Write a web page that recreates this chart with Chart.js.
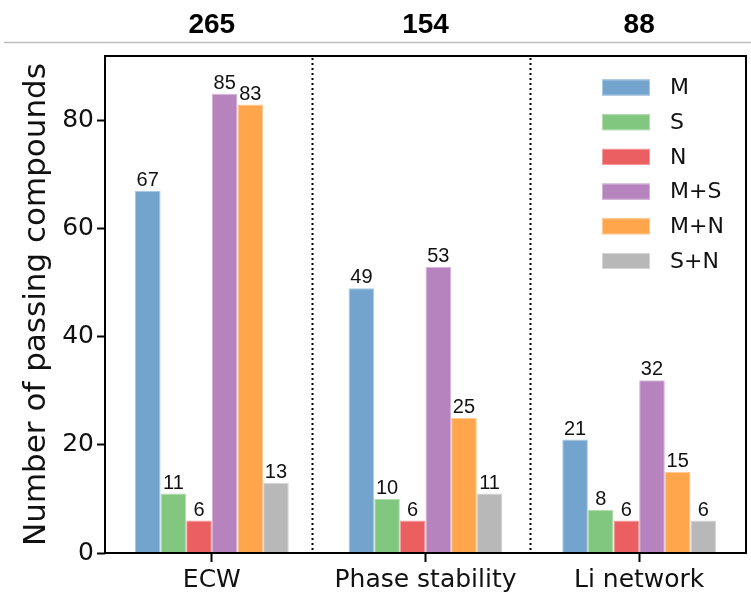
<!DOCTYPE html>
<html>
<head>
<meta charset="utf-8">
<script src="https://cdn.jsdelivr.net/npm/chart.js@4/dist/chart.umd.min.js"></script>
<style>
  html, body { margin: 0; padding: 0; background: #fff; }
  canvas { display: block; }
</style>
</head>
<body>
<canvas id="chart" width="751" height="596" style="width:751px;height:596px"></canvas>
<script>
// Screening stages and the number of compounds passing each one
const categories = ['ECW', 'Phase stability', 'Li network'];
const seriesNames = ['M', 'S', 'N', 'M+S', 'M+N', 'S+N'];
const valuesM  = [67, 49, 21];
const valuesS  = [11, 10, 8];
const valuesN  = [6, 6, 6];
const valuesMS = [85, 53, 32];
const valuesMN = [83, 25, 15];
const valuesSN = [13, 11, 6];
const yTickValues = [0, 20, 40, 60, 80];
const separatorPositions = [0.47, 1.49];

const seriesValues = [valuesM, valuesS, valuesN, valuesMS, valuesMN, valuesSN];
const seriesColors = ['#72a4cd', '#82c780', '#ec5f60', '#b783bf', '#ffa54c', '#b8b8b8'];
const seriesEdges  = ['#a9c8e1', '#b1dcae', '#f49c9d', '#d3b3d8', '#ffc891', '#d4d4d4'];

// Totals shown above each group
const totals = categories.map((_, i) => seriesValues.reduce((s, arr) => s + arr[i], 0));

const decor = {
  id: 'decor',
  afterDatasetsDraw(chart) {
    const ctx = chart.ctx;
    const area = chart.chartArea;
    const xs = chart.scales.x;

    // value labels above bars
    ctx.save();
    ctx.font = '20px "Liberation Sans", Arial, sans-serif';
    ctx.fillStyle = '#111';
    ctx.textAlign = 'center';
    ctx.textBaseline = 'alphabetic';
    chart.data.datasets.forEach((ds, di) => {
      const meta = chart.getDatasetMeta(di);
      meta.data.forEach((bar, i) => {
        ctx.fillText(String(ds.data[i]), bar.x, bar.y - 5);
      });
    });
    ctx.restore();

    // dotted separators between groups
    ctx.save();
    ctx.strokeStyle = '#000';
    ctx.lineWidth = 2;
    ctx.setLineDash([2, 3]);
    separatorPositions.forEach(p => {
      const x = Math.round(xs.getPixelForValue(p)) + 0.5;
      ctx.beginPath();
      ctx.moveTo(x, area.top + 2);
      ctx.lineTo(x, area.bottom);
      ctx.stroke();
    });
    ctx.restore();

    // frame around the plot
    ctx.save();
    ctx.strokeStyle = '#000';
    ctx.lineWidth = 2;
    ctx.strokeRect(area.left, area.top, area.right - area.left, area.bottom - area.top);
    ctx.restore();
  },
  afterDraw(chart) {
    const ctx = chart.ctx;
    const xs = chart.scales.x;

    // group totals and the rule under them
    ctx.save();
    ctx.font = 'bold 28px "Liberation Sans", Arial, sans-serif';
    ctx.fillStyle = '#000';
    ctx.textAlign = 'center';
    ctx.textBaseline = 'alphabetic';
    totals.forEach((t, i) => {
      ctx.fillText(String(t), xs.getPixelForValue(i), 33);
    });
    ctx.strokeStyle = '#bdbdbd';
    ctx.lineWidth = 1.5;
    ctx.beginPath();
    ctx.moveTo(4, 42.5);
    ctx.lineTo(751, 42.5);
    ctx.stroke();
    ctx.restore();

    // legend
    ctx.save();
    ctx.font = '22px "DejaVu Sans", sans-serif';
    ctx.textAlign = 'left';
    ctx.textBaseline = 'middle';
    chart.data.datasets.forEach((ds, i) => {
      const cy = 87.5 + i * 34.7;
      ctx.fillStyle = seriesColors[i];
      ctx.fillRect(602, cy - 8, 48, 16);
      ctx.strokeStyle = seriesEdges[i];
      ctx.lineWidth = 1;
      ctx.strokeRect(602.5, cy - 7.5, 47, 15);
      ctx.fillStyle = '#111';
      ctx.fillText(ds.label, 670, cy + 1);
    });
    ctx.restore();
  }
};

new Chart(document.getElementById('chart'), {
  type: 'bar',
  data: {
    labels: categories,
    datasets: seriesNames.map((name, i) => ({
      label: name,
      data: seriesValues[i],
      backgroundColor: seriesColors[i],
      borderColor: seriesEdges[i],
      borderWidth: 1,
      categoryPercentage: 0.72,
      barPercentage: 1.0
    }))
  },
  options: {
    responsive: false,
    animation: false,
    devicePixelRatio: 1,
    layout: { padding: { top: 56, right: 5, left: 0, bottom: 0 } },
    plugins: { legend: { display: false }, tooltip: { enabled: false } },
    scales: {
      x: {
        border: { display: false },
        grid: {
          offset: false,
          drawOnChartArea: false,
          drawTicks: true,
          tickLength: 9,
          tickWidth: 2,
          tickColor: '#000'
        },
        ticks: {
          color: '#111',
          padding: 3,
          maxRotation: 0,
          font: { family: '"DejaVu Sans", sans-serif', size: 25 }
        },
        afterFit(scale) { scale.height = 43; }
      },
      y: {
        min: 0,
        max: 92,
        border: { display: false },
        grid: {
          drawOnChartArea: false,
          drawTicks: true,
          tickLength: 8,
          tickWidth: 2,
          tickColor: '#000'
        },
        ticks: {
          stepSize: 20,
          color: '#111',
          padding: 3,
          font: { family: '"DejaVu Sans", sans-serif', size: 25 }
        },
        afterBuildTicks(scale) {
          scale.ticks = yTickValues.map(v => ({ value: v }));
        },
        title: {
          display: true,
          text: 'Number of passing compounds',
          color: '#111',
          padding: { top: 18, bottom: 0 },
          font: { family: '"DejaVu Sans", sans-serif', size: 31 }
        },
        afterFit(scale) { scale.width = 105; }
      }
    }
  },
  plugins: [decor]
});
</script>
</body>
</html>
